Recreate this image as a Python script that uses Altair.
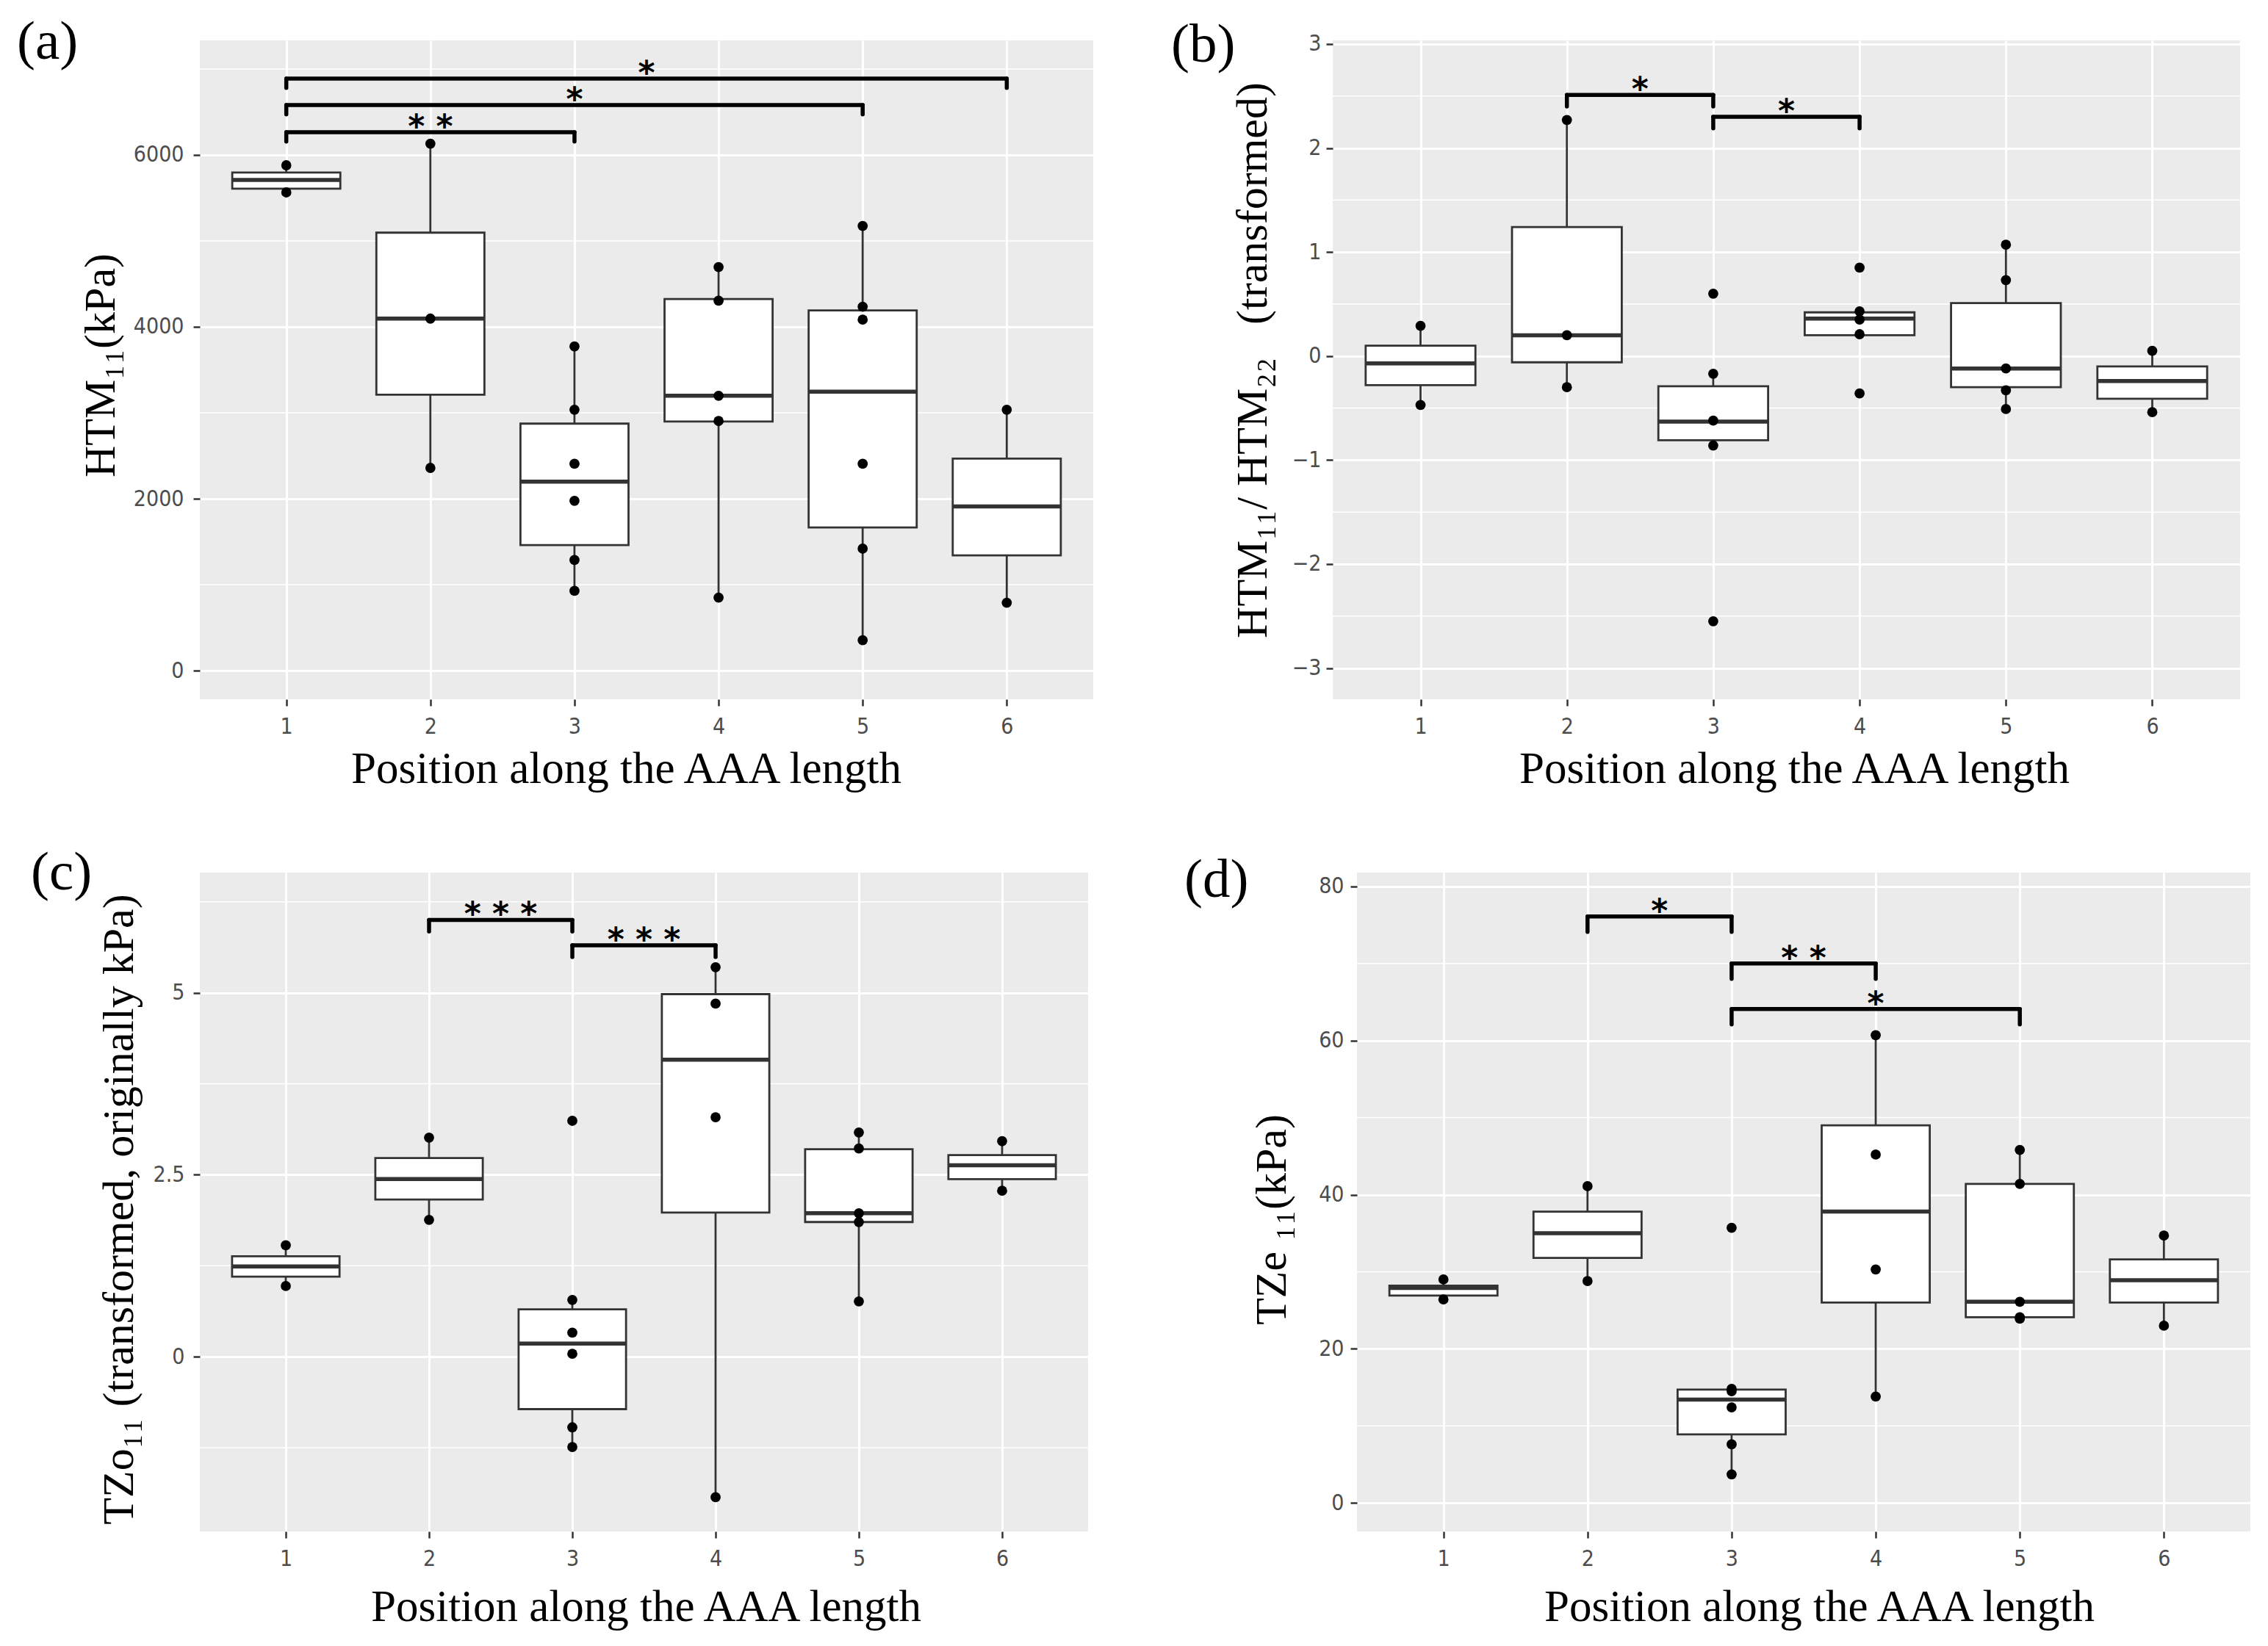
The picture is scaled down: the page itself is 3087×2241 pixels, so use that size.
import altair as alt
import pandas as pd

positions = [1, 2, 3, 4, 5, 6]

# ---------------- panel (a) HTM11 (kPa)
a_lo  = [5564, 2359, 928, 850, 353, 790]
a_q1  = [5607, 3210, 1461, 2898, 1665, 1341]
a_med = [5709, 4096, 2198, 3198, 3246, 1910]
a_q3  = [5795, 5096, 2874, 4323, 4192, 2467]
a_hi  = [5880, 6132, 3772, 4695, 5174, 3036]
a_pts = [[5880, 5564], [6132, 4096, 2359], [3772, 3036, 2407, 1976, 1287, 928],
         [4695, 4305, 3198, 2904, 850], [5174, 4234, 4084, 2407, 1419, 353], [3036, 790]]
a_br_from = [1, 1, 1]
a_br_to = [3, 5, 6]
a_br_y = [6265, 6581, 6889]
a_br_lab = ["* *", "*", "*"]
a_drop = 110
a_ticks = [0, 2000, 4000, 6000]
a_minor = [1000, 3000, 5000, 7000]

# ---------------- panel (b) HTM11/HTM22 (transformed)
b_lo  = [-0.47, -0.30, -0.86, 0.20, -0.51, -0.54]
b_q1  = [-0.28, -0.06, -0.81, 0.20, -0.30, -0.41]
b_med = [-0.07, 0.20, -0.63, 0.36, -0.12, -0.24]
b_q3  = [0.10, 1.24, -0.29, 0.42, 0.51, -0.10]
b_hi  = [0.29, 2.27, -0.17, 0.43, 1.07, 0.05]
b_pts = [[0.29, -0.47], [2.27, 0.20, -0.30], [0.60, -0.17, -0.62, -0.86, -2.55],
         [0.85, 0.43, 0.35, 0.21, -0.36], [1.07, 0.73, -0.12, -0.33, -0.51], [0.05, -0.54]]
b_br_from = [2, 3]
b_br_to = [3, 4]
b_br_y = [2.51, 2.30]
b_br_lab = ["*", "*"]
b_drop = 0.11
b_ticks = [-3, -2, -1, 0, 1, 2, 3]
b_minor = [-2.5, -1.5, -0.5, 0.5, 1.5, 2.5]

# ---------------- panel (c) TZo11 (transformed)
c_lo  = [0.97, 1.88, -1.24, -1.93, 0.76, 2.28]
c_q1  = [1.10, 2.16, -0.72, 1.98, 1.85, 2.44]
c_med = [1.24, 2.44, 0.18, 4.08, 1.97, 2.63]
c_q3  = [1.38, 2.73, 0.65, 4.98, 2.85, 2.77]
c_hi  = [1.53, 3.01, 0.78, 5.35, 3.08, 2.96]
c_pts = [[1.53, 0.97], [3.01, 1.88], [3.24, 0.78, 0.33, 0.04, -0.97, -1.24],
         [5.35, 4.85, 3.29, -1.93], [3.08, 2.86, 1.97, 1.85, 0.76], [2.96, 2.28]]
c_br_from = [2, 3]
c_br_to = [3, 4]
c_br_y = [6.00, 5.65]
c_br_lab = ["* * *", "* * *"]
c_drop = 0.16
c_ticks = [0, 2.5, 5]
c_minor = [-1.25, 1.25, 3.75, 6.25]

# ---------------- panel (d) TZe11 (kPa)
d_lo  = [26.4, 28.8, 3.7, 13.8, 23.9, 23.0]
d_q1  = [26.9, 31.8, 8.9, 26.0, 24.1, 26.0]
d_med = [27.9, 35.0, 13.4, 37.8, 26.1, 28.9]
d_q3  = [28.2, 37.8, 14.7, 49.0, 41.4, 31.6]
d_hi  = [29.0, 41.1, 14.8, 60.7, 45.8, 34.7]
d_pts = [[29.0, 26.4], [41.1, 28.8], [35.7, 14.8, 14.5, 12.4, 7.6, 3.7],
         [60.7, 45.2, 30.3, 13.8], [45.8, 41.4, 26.1, 24.1, 23.9], [34.7, 23.0]]
d_br_from = [2, 3, 3]
d_br_to = [3, 4, 5]
d_br_y = [76.1, 70.0, 64.1]
d_br_lab = ["*", "* *", "*"]
d_drop = 2.0
d_ticks = [0, 20, 40, 60, 80]
d_minor = [10, 30, 50, 70]

NB = "\u00a0"
SERIF = "Liberation Serif"
TICKFONT = "DejaVu Sans Condensed, DejaVu Sans"
BOXC = "#333333"


def panel(lo, q1, med, q3, hi, pts, br_from, br_to, br_y, br_lab, drop,
          ticks, minor, ydom, yfmt, ytitle, label, w, h,
          ytx, yty, ylp, xtx, xty, lab_x, lab_y):
    box = pd.DataFrame({"pos": positions, "lo": lo, "q1": q1, "med": med, "q3": q3, "hi": hi})
    pp, vv = [], []
    for p, vals in zip(positions, pts):
        for v in vals:
            pp.append(p)
            vv.append(v)
    pdf = pd.DataFrame({"pos": pp, "v": vv})
    br = pd.DataFrame({"x1": br_from, "x2": br_to, "yb": br_y, "lab": br_lab})
    br["yt"] = br["yb"] - drop
    br["xm"] = (br["x1"] + br["x2"]) / 2
    mg = pd.DataFrame({"m": minor})

    xscale = alt.Scale(domain=[0.4, 6.6], nice=False, zero=False)
    yscale = alt.Scale(domain=ydom, nice=False, zero=False)
    xaxis = alt.Axis(values=positions, format="d", title="Position along the AAA length",
                     grid=True, gridColor="white", gridWidth=3, domain=False,
                     tickColor=BOXC, tickWidth=2.5, tickSize=9,
                     labelFont=TICKFONT, labelFontSize=30, labelColor="#4D4D4D", labelPadding=13,
                     titleFont=SERIF, titleFontSize=61, titleFontWeight="normal", titleColor="black",
                     titleX=xtx, titleY=xty, titleBaseline="alphabetic", titleAlign="center")
    yaxis = alt.Axis(values=ticks, format=yfmt, title=ytitle,
                     grid=True, gridColor="white", gridWidth=3, domain=False,
                     tickColor=BOXC, tickWidth=2.5, tickSize=9,
                     labelFont=TICKFONT, labelFontSize=30, labelColor="#4D4D4D", labelPadding=ylp,
                     titleFont=SERIF, titleFontSize=60, titleFontWeight="normal", titleColor="black",
                     titleX=ytx, titleY=yty, titleAngle=270, titleBaseline="alphabetic",
                     titleAlign="center")

    minor_l = alt.Chart(mg).mark_rule(color="white", strokeWidth=1.5).encode(
        y=alt.Y("m:Q", scale=yscale, axis=yaxis),
        x=alt.value(0), x2=alt.value(w))
    base = alt.Chart(box).transform_calculate(xl="datum.pos - 0.375", xr="datum.pos + 0.375")
    wlo = base.mark_rule(color=BOXC, strokeWidth=2.8).encode(
        x=alt.X("pos:Q", scale=xscale, axis=xaxis), y="lo:Q", y2="q1:Q")
    whi = base.mark_rule(color=BOXC, strokeWidth=2.8).encode(
        x="pos:Q", y="q3:Q", y2="hi:Q")
    rect = base.mark_rect(fill="white", stroke=BOXC, strokeWidth=2.8).encode(
        x="xl:Q", x2="xr:Q", y="q1:Q", y2="q3:Q")
    medl = base.mark_rule(color=BOXC, strokeWidth=5.5).encode(
        x="xl:Q", x2="xr:Q", y="med:Q")
    dots = alt.Chart(pdf).mark_circle(color="black", opacity=1, size=190).encode(
        x="pos:Q", y="v:Q")
    bh = alt.Chart(br).mark_rule(color="black", strokeWidth=5.5, strokeCap="round").encode(
        x="x1:Q", x2="x2:Q", y="yb:Q")
    bl = alt.Chart(br).mark_rule(color="black", strokeWidth=5.5, strokeCap="round").encode(
        x="x1:Q", y="yb:Q", y2="yt:Q")
    brr = alt.Chart(br).mark_rule(color="black", strokeWidth=5.5, strokeCap="round").encode(
        x="x2:Q", y="yb:Q", y2="yt:Q")
    stars = alt.Chart(br).mark_text(font="DejaVu Sans", fontWeight="bold", fontSize=44,
                                    color="black", baseline="alphabetic", dy=7).encode(
        x="xm:Q", y="yb:Q", text="lab:N")
    lab = alt.Chart(pd.DataFrame({"t": [label]})).mark_text(
        font=SERIF, fontSize=75, color="black", align="left", baseline="alphabetic").encode(
        x=alt.value(lab_x), y=alt.value(lab_y), text="t:N")
    return alt.layer(minor_l, wlo, whi, rect, medl, dots, bh, bl, brr, stars, lab).properties(
        width=w, height=h)


A = panel(a_lo, a_q1, a_med, a_q3, a_hi, a_pts, a_br_from, a_br_to, a_br_y, a_br_lab, a_drop,
          a_ticks, a_minor, [-333, 7333], "d", "HTM\u2081\u2081(kPa)", "(a)", 1216, 897,
          -117, 442, 13, 580, 113, -249, 25)
B = panel(b_lo, b_q1, b_med, b_q3, b_hi, b_pts, b_br_from, b_br_to, b_br_y, b_br_lab, b_drop,
          b_ticks, b_minor, [-3.3, 3.035], "d",
          "HTM\u2081\u2081/ HTM\u2082\u2082" + NB * 3 + "(transformed)", "(b)", 1235, 897,
          -91, 435, 7, 628, 113, -220, 29)
C = panel(c_lo, c_q1, c_med, c_q3, c_hi, c_pts, c_br_from, c_br_to, c_br_y, c_br_lab, c_drop,
          c_ticks, c_minor, [-2.40, 6.65], "",
          "TZo\u2081\u2081 (transformed, originally kPa)", "(c)", 1209, 897,
          -92, 458, 12, 607, 121, -230, 23)
D = panel(d_lo, d_q1, d_med, d_q3, d_hi, d_pts, d_br_from, d_br_to, d_br_y, d_br_lab, d_drop,
          d_ticks, d_minor, [-3.7, 81.8], "d", "TZe \u2081\u2081(kPa)", "(d)", 1216, 897,
          -98, 472, 9, 629, 121, -235, 33)

chart = alt.vconcat(
    alt.hconcat(A, B, spacing=105),
    alt.hconcat(C, D, spacing=130),
    spacing=74,
).properties(
    padding={"left": 15, "top": 12, "right": 5, "bottom": 5},
    background="white",
).configure_view(fill="#EBEBEB", strokeWidth=0)

chart.save("out.html", embed_options={"renderer": "svg", "actions": False})
